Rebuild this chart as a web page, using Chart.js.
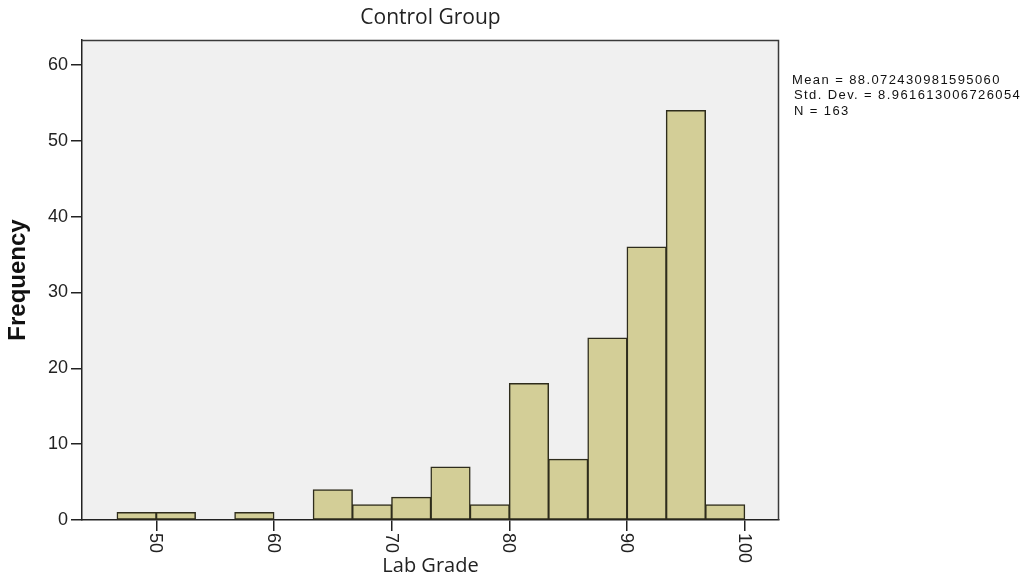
<!DOCTYPE html>
<html>
<head>
<meta charset="utf-8">
<title>Control Group – Lab Grade</title>
<script src="https://cdn.jsdelivr.net/npm/chart.js@4.4.1/dist/chart.umd.min.js"></script>
<style>
  html, body { margin: 0; padding: 0; background: #ffffff; }
  #wrap { width: 1025px; height: 583px; position: relative; }
</style>
</head>
<body>
<div id="wrap"><canvas id="hist" width="1025" height="583"></canvas></div>
<script>
// Histogram bins (lower / upper edges) and their frequencies
const binLow  = [46.67, 50.00, 53.33, 56.67, 60.00, 63.33, 66.67, 70.00, 73.33, 76.67, 80.00, 83.33, 86.67, 90.00, 93.33, 96.67];
const binHigh = [50.00, 53.33, 56.67, 60.00, 63.33, 66.67, 70.00, 73.33, 76.67, 80.00, 83.33, 86.67, 90.00, 93.33, 96.67, 100.00];
const counts  = [1, 1, 0, 1, 0, 4, 2, 3, 7, 2, 18, 8, 24, 36, 54, 2];

// Axis ticks
const xTicks = [50, 60, 70, 80, 90, 100];
const yTicks = [0, 10, 20, 30, 40, 50, 60];

// Summary statistics shown beside the plot
const statLines = [
  'Mean = 88.072430981595060',
  'Std. Dev. = 8.961613006726054',
  'N = 163'
];

const points = binLow.map((lo, i) => ({ x: (lo + binHigh[i]) / 2, y: counts[i] }));

const INK = '#222222';

const frameAndText = {
  id: 'frameAndText',
  beforeDraw(chart) {
    const { ctx, chartArea: a } = chart;
    ctx.save();
    ctx.fillStyle = '#f0f0f0';
    ctx.fillRect(a.left, a.top, a.right - a.left, a.bottom - a.top);
    ctx.restore();
  },
  afterDraw(chart) {
    const { ctx, chartArea: a, scales } = chart;
    ctx.save();
    // top and right edges of the plot frame
    ctx.strokeStyle = '#3a3a3a';
    ctx.lineWidth = 1.5;
    ctx.beginPath();
    ctx.moveTo(a.left, a.top + 0.5);
    ctx.lineTo(a.right - 0.5, a.top + 0.5);
    ctx.lineTo(a.right - 0.5, a.bottom);
    ctx.stroke();

    // x tick labels, turned a quarter clockwise
    const xs = scales.x;
    ctx.fillStyle = INK;
    ctx.font = '18px "Liberation Sans", Arial, sans-serif';
    ctx.textAlign = 'left';
    ctx.textBaseline = 'middle';
    xs.ticks.forEach(t => {
      const px = xs.getPixelForValue(t.value);
      ctx.save();
      ctx.translate(px - 1, a.bottom + 13);
      ctx.rotate(Math.PI / 2);
      ctx.fillText(String(t.value), 0, 0);
      ctx.restore();
    });

    // statistics block
    ctx.font = '13px "Liberation Sans", Arial, sans-serif';
    if ('letterSpacing' in ctx) ctx.letterSpacing = '1.4px';
    ctx.fillStyle = '#111111';
    ctx.textBaseline = 'middle';
    statLines.forEach((s, i) => {
      ctx.fillText(s, i === 0 ? 792 : 794, 80 + i * 15.7);
    });
    ctx.restore();
  }
};

new Chart(document.getElementById('hist'), {
  type: 'bar',
  data: {
    datasets: [{
      data: points,
      backgroundColor: '#d3ce97',
      borderColor: '#2e2c1c',
      borderWidth: 1.5,
      inflateAmount: 0.5,
      borderSkipped: false,
      barPercentage: 1,
      categoryPercentage: 1,
      grouped: false
    }]
  },
  options: {
    responsive: false,
    animation: false,
    events: [],
    layout: { padding: { left: 0, top: 0, right: 246, bottom: 0 } },
    plugins: {
      legend: { display: false },
      tooltip: { enabled: false },
      title: {
        display: true,
        text: 'Control Group',
        fullSize: false,
        color: INK,
        font: { family: '"Open Sans", sans-serif', size: 21, weight: 'normal', lineHeight: 1.2 },
        padding: { top: 5, bottom: 9.8 }
      }
    },
    scales: {
      x: {
        type: 'linear',
        min: 43.69,
        max: 102.91,
        offset: false,
        afterBuildTicks: s => { s.ticks = xTicks.map(v => ({ value: v })); },
        afterFit: s => { s.height = 63; },
        ticks: { display: false, includeBounds: false },
        grid: {
          offset: false,
          drawOnChartArea: false,
          drawTicks: true,
          tickLength: 11,
          color: INK,
          lineWidth: 1.5
        },
        border: { display: true, color: INK, width: 1.5 },
        title: {
          display: true,
          text: 'Lab Grade',
          color: INK,
          font: { family: '"Open Sans", sans-serif', size: 20, weight: 'normal', lineHeight: 1.2 },
          padding: { top: 0, bottom: 5 }
        }
      },
      y: {
        min: 0,
        max: 63.3,
        afterBuildTicks: s => { s.ticks = yTicks.map(v => ({ value: v })); },
        afterFit: s => { s.width = 82; },
        ticks: {
          color: INK,
          padding: 3,
          includeBounds: false,
          font: { family: '"Liberation Sans", Arial, sans-serif', size: 18 }
        },
        grid: {
          drawOnChartArea: false,
          drawTicks: true,
          tickLength: 11,
          color: INK,
          lineWidth: 1.5
        },
        border: { display: true, color: INK, width: 1.5 },
        title: {
          display: true,
          text: 'Frequency',
          color: '#111111',
          font: { family: '"Liberation Sans", Arial, sans-serif', size: 24, weight: 'bold', lineHeight: 1.2 },
          padding: { top: 4, bottom: 0 }
        }
      }
    }
  },
  plugins: [frameAndText]
});
</script>
</body>
</html>
